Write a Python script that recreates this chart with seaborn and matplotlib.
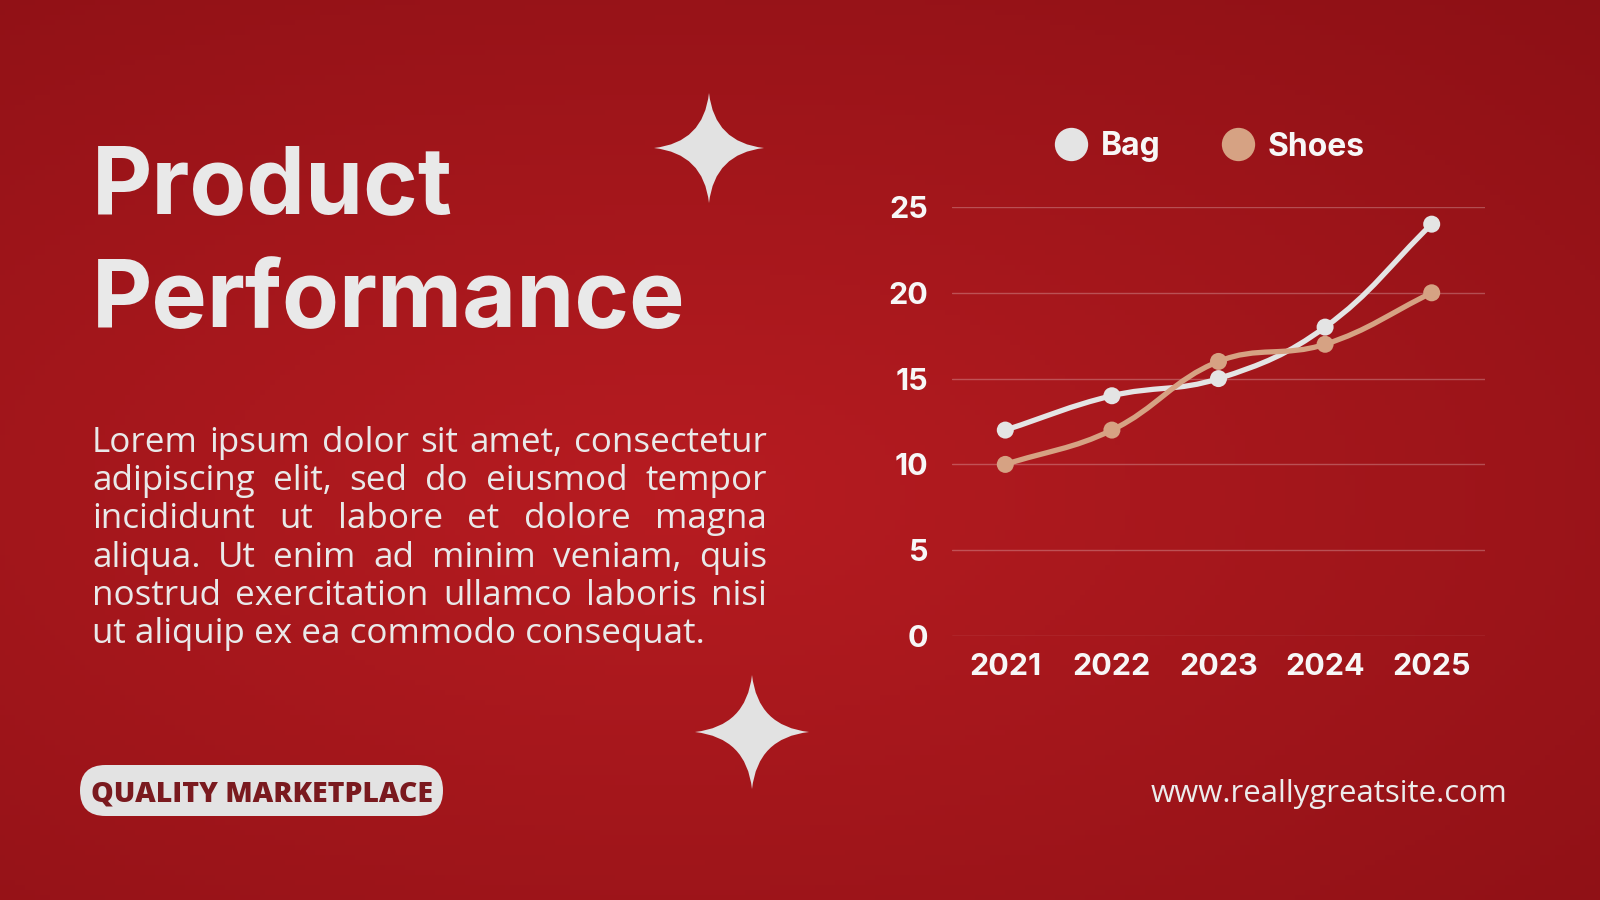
import numpy as np
import pandas as pd
import matplotlib
matplotlib.use("Agg")
import matplotlib.pyplot as plt
import seaborn as sns
from matplotlib.path import Path
from matplotlib.patches import PathPatch, FancyBboxPatch
from matplotlib.lines import Line2D
from matplotlib.transforms import IdentityTransform

years = ["2021", "2022", "2023", "2024", "2025"]
bag = [12, 14, 15, 18, 24]
shoes = [10, 12, 16, 17, 20]
y_ticks = [0, 5, 10, 15, 20, 25]
series_names = ["Bag", "Shoes"]
series_colors = {"Bag": "#e4e4e4", "Shoes": "#d6a283"}

title_lines = ["Product", "Performance"]
body_lines = [
    "Lorem ipsum dolor sit amet, consectetur",
    "adipiscing elit, sed do eiusmod tempor",
    "incididunt ut labore et dolore magna",
    "aliqua. Ut enim ad minim veniam, quis",
    "nostrud exercitation ullamco laboris nisi",
    "ut aliquip ex ea commodo consequat.",
]
badge_text = "QUALITY MARKETPLACE"
site_text = "www.reallygreatsite.com"

W, H = 1600, 900


def fx(x):
    return x / W


def fy(y):
    return 1 - y / H


sns.set_theme(style="white")
plt.rcParams["font.family"] = ["Inter", "DejaVu Sans"]

fig = plt.figure(figsize=(16, 9), dpi=100)
renderer = fig.canvas.get_renderer()

# background: red gradient
bg = fig.add_axes([0, 0, 1, 1], zorder=-5)
gx, gy = np.meshgrid(np.linspace(0, 1, 320), np.linspace(0, 1, 180))
d = np.sqrt(((gx - 0.42) / 0.9) ** 2 + ((gy - 0.55) / 0.8) ** 2)
d = np.clip(d, 0, 1)
c_in = np.array([0.72, 0.11, 0.13])
c_out = np.array([0.54, 0.06, 0.08])
img = c_in[None, None, :] * (1 - d[..., None]) + c_out[None, None, :] * d[..., None]
bg.imshow(img, aspect="auto", extent=[0, 1, 0, 1], origin="upper")
bg.axis("off")


def fit_text(x, y, s, target_w, size0=30, **kw):
    t = fig.text(fx(x), fy(y), s, fontsize=size0, **kw)
    w = t.get_window_extent(renderer).width
    t.set_fontsize(size0 * target_w / w)
    return t


# title
tcol = "#e9e9e9"
t1 = fit_text(92, 327, title_lines[1], 594, size0=70, color=tcol, weight="bold", va="baseline")
fig.text(fx(92), fy(213), title_lines[0], fontsize=t1.get_fontsize(), color=tcol,
         weight="bold", va="baseline")

# justified body text
body_font = ["Open Sans", "DejaVu Sans"]
probe = fit_text(92, 643, body_lines[-1], 614, size0=24, color=tcol, family=body_font, va="baseline")
body_size = probe.get_fontsize()
probe.remove()
left, right = 92, 767
for i, line in enumerate(body_lines):
    base = 452 + i * 38.2
    if i == len(body_lines) - 1:
        fig.text(fx(left), fy(base), line, fontsize=body_size, color=tcol,
                 family=body_font, va="baseline")
        continue
    words = line.split()
    objs = [fig.text(0, fy(base), w, fontsize=body_size, color=tcol,
                     family=body_font, va="baseline") for w in words]
    widths = [o.get_window_extent(renderer).width for o in objs]
    gap = (right - left - sum(widths)) / (len(words) - 1)
    x = left
    for o, w in zip(objs, widths):
        o.set_x(fx(x))
        x += w + gap

# badge pill
pill = FancyBboxPatch((80, H - 816), 363, 51, boxstyle="round,pad=0,rounding_size=25.5",
                      transform=IdentityTransform(), facecolor="#e3e3e3", edgecolor="none")
fig.patches.append(pill)
fit_text(91, 801, badge_text, 341, size0=22, color="#7a1a1f", weight="heavy",
         family=["Open Sans", "DejaVu Sans"], va="baseline")

# website
fit_text(1151, 802, site_text, 357, size0=22, color="#ececec",
         family=["Open Sans", "DejaVu Sans"], va="baseline")


# sparkles
def sparkle(cx, cy, r, c=0.1):
    rx, ry = r / W, r / H
    x0, y0 = fx(cx), fy(cy)
    verts = [(x0, y0 + ry), (x0 + c * rx, y0 + c * ry), (x0 + rx, y0),
             (x0 + c * rx, y0 - c * ry), (x0, y0 - ry),
             (x0 - c * rx, y0 - c * ry), (x0 - rx, y0),
             (x0 - c * rx, y0 + c * ry), (x0, y0 + ry), (x0, y0 + ry)]
    codes = [Path.MOVETO] + [Path.CURVE3] * 8 + [Path.CLOSEPOLY]
    p = PathPatch(Path(verts, codes), transform=fig.transFigure,
                  facecolor="#e2e2e2", edgecolor="none")
    fig.patches.append(p)


sparkle(709, 148, 55)
sparkle(752, 732, 57)

# chart
ax = fig.add_axes([fx(952), fy(636), (1485 - 952) / W, (636 - 207) / H])
ax.set_facecolor("none")
df = pd.DataFrame({
    "year": years * 2,
    "value": bag + shoes,
    "series": ["Bag"] * len(years) + ["Shoes"] * len(years),
})
df["pos"] = df["year"].map({y: i for i, y in enumerate(years)})
ax.set_xlim(-0.5, len(years) - 0.5)
ax.set_ylim(0, 25)

sns.scatterplot(data=df, x="pos", y="value", hue="series", palette=series_colors,
                s=150, edgecolor="none", ax=ax, legend=False, zorder=4, clip_on=False)


def smooth_line(xs, ys, color, tension=0.4):
    pts = ax.transData.transform(np.column_stack([xs, ys]))
    n = len(pts)
    verts, codes = [tuple(pts[0])], [Path.MOVETO]
    ctrl = []
    for i in range(n):
        p0 = pts[max(i - 1, 0)]
        p1 = pts[i]
        p2 = pts[min(i + 1, n - 1)]
        d01 = np.hypot(*(p1 - p0))
        d12 = np.hypot(*(p2 - p1))
        s = d01 + d12
        fa = tension * d01 / s
        fb = tension * d12 / s
        ctrl.append((p1 - fa * (p2 - p0), p1 + fb * (p2 - p0)))
    for i in range(n - 1):
        verts += [tuple(ctrl[i][1]), tuple(ctrl[i + 1][0]), tuple(pts[i + 1])]
        codes += [Path.CURVE4] * 3
    data_verts = ax.transData.inverted().transform(np.array(verts))
    ax.add_patch(PathPatch(Path(data_verts, codes), facecolor="none", edgecolor=color,
                           lw=3.8, zorder=3, capstyle="round", clip_on=False))


for name in series_names:
    sub = df[df["series"] == name]
    smooth_line(sub["pos"].values, sub["value"].values, series_colors[name])

ax.set_xticks(range(len(years)))
ax.set_xticklabels(years)
ax.set_yticks(y_ticks)
ax.set_xlabel("")
ax.set_ylabel("")
ax.grid(axis="y", color="white", alpha=0.25, lw=1)
ax.grid(axis="x", visible=False)
for sp in ax.spines.values():
    sp.set_visible(False)
ax.tick_params(axis="both", length=0, labelsize=22, labelcolor="#f7f7f7")
ax.tick_params(axis="y", pad=17)
ax.tick_params(axis="x", pad=12)
for lab in ax.get_xticklabels() + ax.get_yticklabels():
    lab.set_fontweight("bold")

handles = [Line2D([], [], marker="o", linestyle="", markersize=24,
                  markerfacecolor=series_colors[n], markeredgecolor="none") for n in series_names]
fig.legend(handles, series_names, loc="center", bbox_to_anchor=(fx(1210), fy(147)),
           ncol=2, frameon=False, handlelength=1.0, handletextpad=0.45, columnspacing=1.9,
           prop={"size": 23, "weight": "bold"}, labelcolor="#f7f7f7")

fig.savefig("out.png", dpi=100)
